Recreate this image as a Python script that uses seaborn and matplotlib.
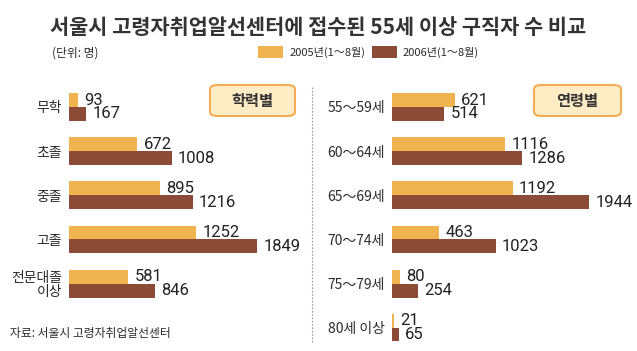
import seaborn as sns
import pandas as pd
import matplotlib.pyplot as plt
from matplotlib.patches import FancyBboxPatch
from matplotlib.lines import Line2D

sns.set_style('white')
plt.rcParams['font.family'] = ['Noto Sans CJK KR', 'DejaVu Sans']

# data
edu = ['무학', '초졸', '중졸', '고졸', '전문대졸\n이상']
edu_2005 = [93, 672, 895, 1252, 581]
edu_2006 = [167, 1008, 1216, 1849, 846]

age = ['55～59세', '60～64세', '65～69세', '70～74세', '75～79세', '80세 이상']
age_2005 = [621, 1116, 1192, 463, 80, 21]
age_2006 = [514, 1286, 1944, 1023, 254, 65]

years = ['2005년(1～8월)', '2006년(1～8월)']
colors = ['#efb44f', '#8c4b37']
txt = '#2b2b2b'
num_font = ['Roboto', 'Liberation Sans']

W, H = 637, 351
fig = plt.figure(figsize=(W / 100, H / 100), dpi=100)

def px_axes(x0, y0, x1, y1):
    # pixel box (top-left origin) -> figure axes
    return fig.add_axes([x0 / W, 1 - y1 / H, (x1 - x0) / W, (y1 - y0) / H])

XMAX = 2340
ax1 = px_axes(69, 84.9, 69 + XMAX * 0.1017, 341)
ax2 = px_axes(392, 84.9, 392 + XMAX * 0.1013, 341)

def panel(ax, cats, v05, v06):
    df = pd.DataFrame({'cat': cats * 2,
                       'val': v05 + v06,
                       'year': [years[0]] * len(cats) + [years[1]] * len(cats)})
    sns.barplot(data=df, y='cat', x='val', hue='year', orient='h',
                order=cats, palette=colors, width=0.63, ax=ax, legend=False,
                edgecolor='none', saturation=1)
    for c in ax.containers:
        ax.bar_label(c, padding=4.5, fontsize=12, color='#222222', family=num_font)
    ax.set_xlim(0, XMAX)
    ax.set_ylim(5.3, -0.5)
    ax.set_xlabel('')
    ax.set_ylabel('')
    ax.set_xticks([])
    ax.tick_params(axis='y', length=0, pad=5, labelsize=10, labelcolor=txt)
    for s in ax.spines.values():
        s.set_visible(False)
    ax.patch.set_alpha(0)

panel(ax1, edu, edu_2005, edu_2006)
panel(ax2, age, age_2005, age_2006)
for lab in ax1.get_yticklabels():
    lab.set_multialignment('right')
    lab.set_linespacing(1.0)

# title and notes
fig.text(0.5, 1 - 27 / H, '서울시 고령자취업알선센터에 접수된 55세 이상 구직자 수 비교',
         ha='center', va='center', fontsize=15, fontweight='bold', color='#333333')
fig.text(52 / W, 1 - 53 / H, '(단위: 명)', ha='left', va='center', fontsize=8.5, color=txt)
fig.text(10 / W, 1 - 334 / H, '자료: 서울시 고령자취업알선센터', ha='left', va='center',
         fontsize=8.5, color=txt)

# legend
for i, (lx, tx) in enumerate([(258, 290), (372, 403)]):
    fig.patches.append(FancyBboxPatch((lx / W, 1 - 58 / H), 25 / W, 12 / H,
                                      boxstyle='square,pad=0', transform=fig.transFigure,
                                      facecolor=colors[i], edgecolor='none'))
    fig.text(tx / W, 1 - 52.5 / H, years[i], ha='left', va='center', fontsize=8,
             color=txt)

# badges
for (bx0, bx1), label in [((210, 295), '학력별'), ((534, 621), '연령별')]:
    fig.patches.append(FancyBboxPatch((bx0 / W, 1 - 116 / H), (bx1 - bx0) / W, 31 / H,
                                      boxstyle='round,pad=0,rounding_size=0.012',
                                      transform=fig.transFigure, facecolor='#feecc4',
                                      edgecolor='#f3ad55', linewidth=1.5))
    fig.text((bx0 + bx1) / 2 / W, 1 - 101 / H, label, ha='center', va='center',
             fontsize=11, fontweight='bold', color='#333333')

# dotted separator
fig.add_artist(Line2D([312 / W, 312 / W], [1 - 87 / H, 1 - 343 / H],
                      transform=fig.transFigure, color='#999999', linewidth=0.8,
                      linestyle=(0, (1.5, 1.5))))

fig.savefig('out.png', dpi=100)
